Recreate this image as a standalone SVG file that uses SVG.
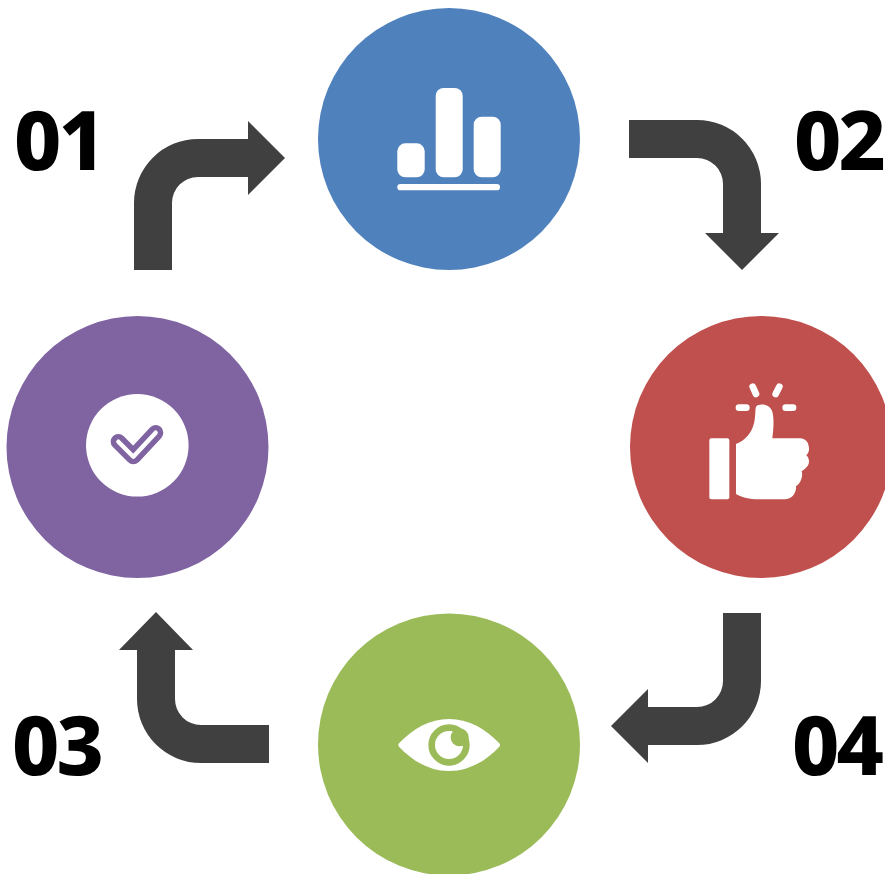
<svg xmlns="http://www.w3.org/2000/svg" width="885" height="874" viewBox="0 0 885 874">
<style>
.arrow{fill:#404040}
.label{font-family:"Noto Sans","Open Sans",sans-serif;font-weight:800;font-size:82px;letter-spacing:-3px;fill:#000}
.w{fill:#fff}
</style>
<rect width="885" height="874" fill="#fff"/>
<g id="connectors">
<path class="arrow" d="M134 270V203A64 64 0 0 1 198 139H248V121L285 158L248 195V177H198A26 26 0 0 0 172 203V270Z"/>
<path class="arrow" d="M629 120H697A64 64 0 0 1 761 184V233H779L742 270L705 233H723V184A26 26 0 0 0 697 158H629Z"/>
<path class="arrow" d="M761 613V681A64 64 0 0 1 697 745H648V763L611 726L648 689V707H697A26 26 0 0 0 723 681V613Z"/>
<path class="arrow" d="M269 763H201A64 64 0 0 1 137 699V650H119L156 612L193 650H175V699A26 26 0 0 0 201 725H269Z"/>
</g>
<g id="node-chart">
<circle cx="449" cy="139" r="131" fill="#4f81bd"/>
<rect class="w" x="397.3" y="143.3" width="27.4" height="34" rx="8"/>
<rect class="w" x="435.7" y="88" width="27" height="89.3" rx="8"/>
<rect class="w" x="473.7" y="116.7" width="27" height="60.6" rx="8"/>
<rect class="w" x="397.3" y="184" width="102.7" height="6.3" rx="3.1"/>
</g>
<g id="node-thumb">
<circle cx="761" cy="447" r="131" fill="#c0504d"/>
<g transform="translate(690 370) scale(.33333)">
<rect class="w" x="58" y="205" width="60" height="183" rx="6"/>
<path class="w" d="M138 222C165 212 185 190 192 160C197 140 195 120 198 110C205 100 235 100 245 120C252 135 252 165 247 205H330C350 205 358 222 357 240C356 248 352 252 349 256C358 265 360 278 352 289C347 296 340 301 335 304C340 318 332 340 318 349C320 368 305 388 285 388H205C180 388 155 382 138 372Z"/>
<g fill="none" stroke="#fff" stroke-width="20" stroke-linecap="round">
<path d="M188 50L198 72"/>
<path d="M268 50L257 72"/>
<path d="M147 113H169"/>
<path d="M287 113H309"/>
</g>
</g>
</g>
<g id="node-eye">
<circle cx="449" cy="744.5" r="131" fill="#9bbb59"/>
<g transform="translate(385 700) scale(.33333)">
<path class="w" d="M42 130C85 85 135 57 192 57C250 57 300 85 343 130Q347 135 343 140C300 185 250 213 192 213C135 213 85 185 42 140Q38 135 42 130Z"/>
<circle cx="192" cy="135" r="52" fill="none" stroke="#9bbb59" stroke-width="20"/>
<circle cx="224" cy="112" r="27" fill="#9bbb59"/>
</g>
</g>
<g id="node-check">
<circle cx="137.5" cy="447" r="131" fill="#8064a2"/>
<circle class="w" cx="137.3" cy="445.3" r="51.3"/>
<g transform="translate(75 390) scale(.33333)" fill="none" stroke-linecap="round" stroke-linejoin="round">
<path d="M130 155L175 200L242 128" stroke="#8064a2" stroke-width="46"/>
<path d="M130 155L175 200L242 128" stroke="#fff" stroke-width="13"/>
</g>
</g>
<g id="labels">
<text class="label" x="14" y="170">01</text>
<text class="label" x="794" y="170">02</text>
<text class="label" x="12" y="775">03</text>
<text class="label" x="792" y="775">04</text>
</g>
</svg>
